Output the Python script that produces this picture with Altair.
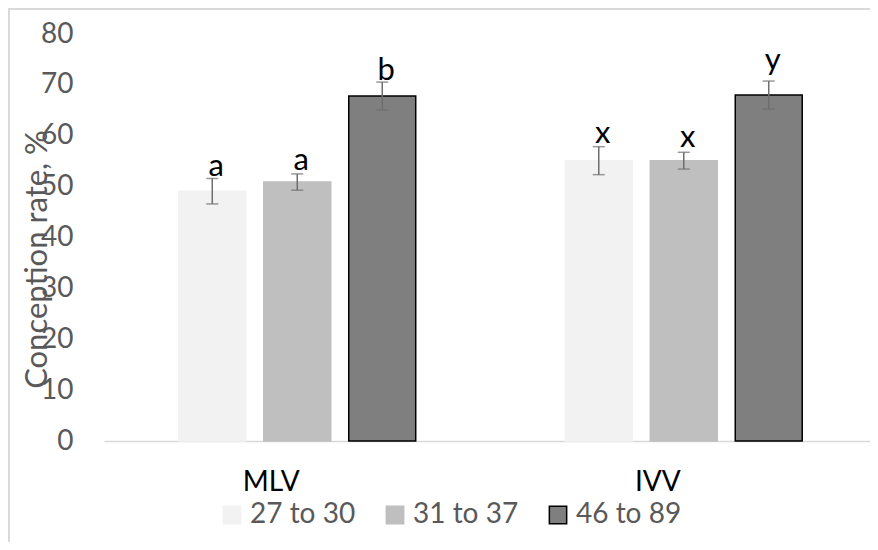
import altair as alt
import pandas as pd

groups = ["MLV", "MLV", "MLV", "IVV", "IVV", "IVV"]
ages = ["27 to 30", "31 to 37", "46 to 89", "27 to 30", "31 to 37", "46 to 89"]
rates = [49.1, 50.9, 67.8, 55.1, 55.1, 68.0]
errors = [2.5, 1.6, 2.75, 2.75, 1.65, 2.75]
letters = ["a", "a", "b", "x", "x", "y"]
letter_pos = [52.1, 53.3, 71.0, 58.6, 57.8, 72.9]

group_order = ["MLV", "IVV"]
age_order = ["27 to 30", "31 to 37", "46 to 89"]
fills = ["#f2f2f2", "#bfbfbf", "#7f7f7f"]
strokes = ["#f2f2f2", "#bfbfbf", "#000000"]

df = pd.DataFrame({
    "group": groups,
    "age": ages,
    "rate": rates,
    "lo": [r - e for r, e in zip(rates, errors)],
    "hi": [r + e for r, e in zip(rates, errors)],
    "letter": letters,
    "lpos": letter_pos,
})

FONT = "Lato"
GRAY = "#595959"

x = alt.X("group:N", sort=group_order, title=None,
          scale=alt.Scale(range=[0, 773], paddingInner=0, paddingOuter=0),
          axis=alt.Axis(labelAngle=0, labelFontSize=28, labelFont=FONT, labelColor="#000000",
                        labelPadding=27, labelOffset=-26, labelBaseline="top",
                        ticks=False, domainColor="#d9d9d9", domainWidth=1.5, grid=False))
xo = alt.XOffset("age:N", sort=age_order,
                 scale=alt.Scale(paddingInner=0.212, paddingOuter=0.88))
y_scale = alt.Scale(domain=[0, 80], nice=False)

base = alt.Chart(df)

frame = alt.Chart(alt.Data(values=[{}])).mark_rect(
    fillOpacity=0, stroke="#d9d9d9", strokeWidth=2
).encode(x=alt.value(-95), x2=alt.value(900), y=alt.value(-25), y2=alt.value(700))

bars = base.mark_bar(strokeWidth=1.5).encode(
    x=x,
    xOffset=xo,
    y=alt.Y("rate:Q", scale=y_scale, title="Conception rate, %",
            axis=alt.Axis(values=list(range(0, 81, 10)), labelFontSize=28, labelFont=FONT,
                          labelColor=GRAY, labelPadding=31, ticks=False, domain=False, grid=False,
                          titleFont=FONT, titleFontSize=31, titleColor=GRAY, titleFontWeight="normal",
                          titleX=-58, titleY=225, titleAngle=270, titleAlign="center",
                          titleBaseline="alphabetic")),
    fill=alt.Fill("age:N", sort=age_order, title=None,
                  scale=alt.Scale(domain=age_order, range=fills),
                  legend=alt.Legend(orient="none", direction="horizontal", legendX=114, legendY=467,
                                    symbolType="square", symbolSize=300, symbolStrokeWidth=1.5,
                                    labelFontSize=28, labelFont=FONT, labelColor=GRAY,
                                    labelOffset=4, columnPadding=25, padding=0)),
    stroke=alt.Stroke("age:N", sort=age_order, title=None,
                      scale=alt.Scale(domain=age_order, range=strokes)),
)

rules = base.mark_rule(color="#6e6e6e", strokeWidth=1.5).encode(
    x=x, xOffset=xo, y=alt.Y("lo:Q", scale=y_scale), y2="hi:Q"
)
caps_lo = base.mark_tick(color="#6e6e6e", thickness=1.5, size=12, orient="horizontal").encode(
    x=x, xOffset=xo, y=alt.Y("lo:Q", scale=y_scale)
)
caps_hi = base.mark_tick(color="#6e6e6e", thickness=1.5, size=12, orient="horizontal").encode(
    x=x, xOffset=xo, y=alt.Y("hi:Q", scale=y_scale)
)
texts = base.mark_text(font=FONT, fontSize=31, color="#000000", baseline="alphabetic", dx=4).encode(
    x=x, xOffset=xo, y=alt.Y("lpos:Q", scale=y_scale), text="letter:N"
)

chart = alt.layer(frame, bars, rules, caps_lo, caps_hi, texts).properties(
    width=766, height=407,
    autosize=alt.AutoSizeParams(type="none"),
    padding={"left": 96, "top": 26, "right": 0, "bottom": 101},
).configure_view(stroke=None)

chart.save("out.html", embed_options={"renderer": "svg", "actions": False})
